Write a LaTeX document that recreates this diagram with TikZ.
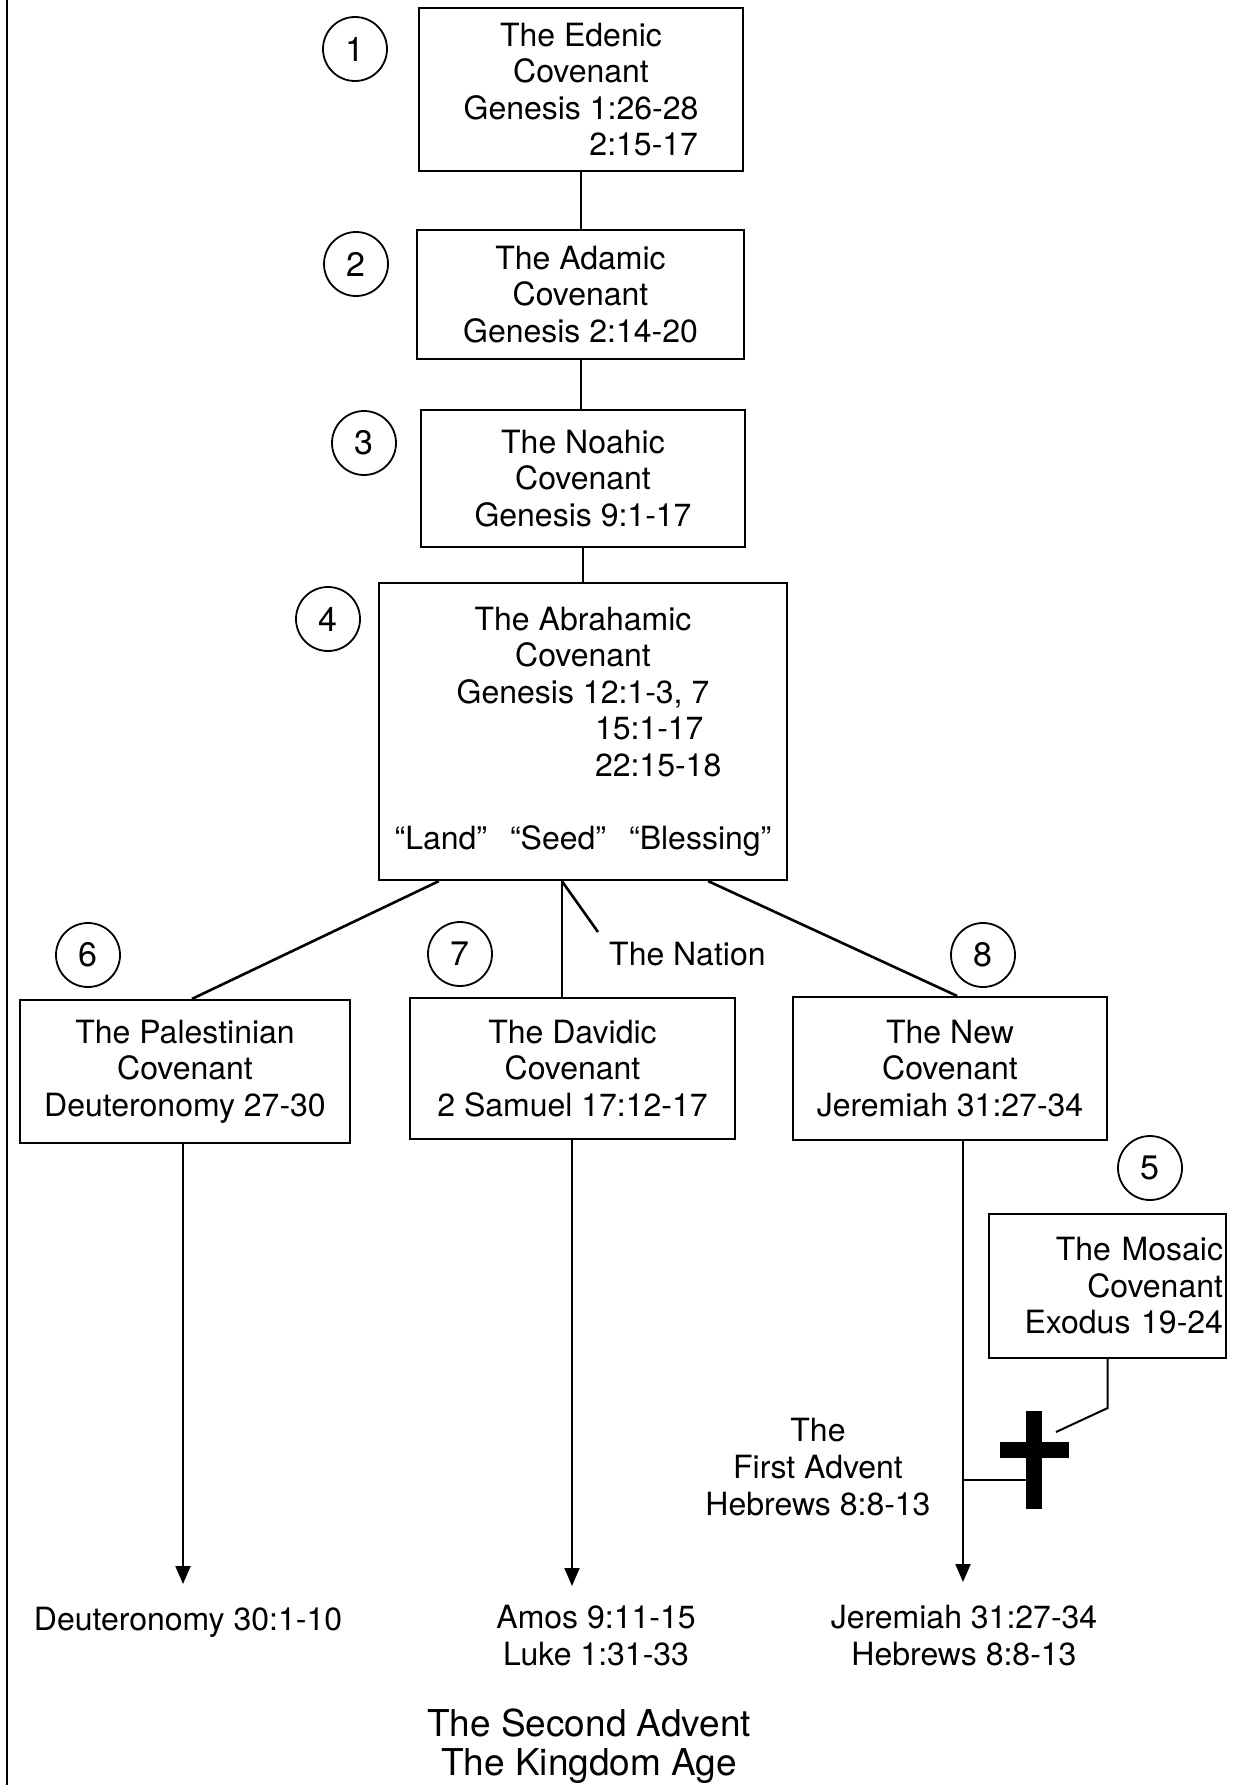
\documentclass[tikz,border=0pt]{standalone}
\usepackage{fontspec}
\setmainfont{TeX Gyre Heros}
\usetikzlibrary{arrows.meta}
\begin{document}
\begin{tikzpicture}[x=1pt,y=-1pt,
  cov/.style={draw, line width=2.2pt, inner sep=0pt, align=center, font=\fontsize{32}{36.5}\selectfont},
  num/.style={draw, circle, line width=1.8pt, minimum size=64pt, inner sep=0pt, font=\fontsize{34}{34}\selectfont},
  conn/.style={line width=2pt},
  diag/.style={line width=2.6pt},
  arr/.style={line width=2pt, -{Triangle[width=15pt,length=18pt]}},
  lbl/.style={inner sep=0pt, align=center, font=\fontsize{32}{37}\selectfont},
  crossbar/.style={fill=black, draw=none, inner sep=0pt}
]
\fill[white] (0,0) rectangle (1237,1785);
\useasboundingbox (0,0) rectangle (1237,1785);
\draw[line width=1.5pt] (7,0) -- (7,1785);

% covenant boxes
\node[cov, minimum width=324pt, minimum height=163pt] (b1) at (581,89.5)
  {The Edenic\\Covenant\\Genesis 1:26-28\\\makebox[234pt][r]{2:15-17}};
\node[cov, minimum width=327pt, minimum height=129pt] (b2) at (580.5,294.5)
  {The Adamic\\Covenant\\Genesis 2:14-20};
\node[cov, minimum width=324pt, minimum height=137pt] (b3) at (583,478.5)
  {The Noahic\\Covenant\\Genesis 9:1-17};
\node[cov, minimum width=408pt, minimum height=297pt] (b4) at (583,731.5)
  {The Abrahamic\\Covenant\\Genesis 12:1-3, 7\\\hspace*{24pt}\makebox[0pt][l]{15:1-17}\\\hspace*{24pt}\makebox[0pt][l]{22:15-18}\\[36.5pt]“Land”\hspace{23pt}“Seed”\hspace{23pt}“Blessing”};
\node[cov, minimum width=330pt, minimum height=143pt] (b6) at (185,1071.5)
  {The Palestinian\\Covenant\hspace*{36pt}\\Deuteronomy 27-30};
\node[cov, minimum width=325pt, minimum height=141pt] (b7) at (572.5,1068.5)
  {The Davidic\\Covenant\\2 Samuel 17:12-17};
\node[cov, minimum width=314pt, minimum height=143pt] (b8) at (950,1068.5)
  {The New\\Covenant\\Jeremiah 31:27-34};
\node[cov, minimum width=237pt, minimum height=144pt, text width=231pt, align=right] (b5) at (1107.5,1286)
  {The Mosaic\\Covenant\\Exodus 19-24};

% numbers
\node[num] (n1) at (355,49) {1};
\node[num] (n2) at (356,264) {2};
\node[num] (n3) at (364,443) {3};
\node[num] (n4) at (328,619) {4};
\node[num] (n6) at (88,955) {6};
\node[num] (n7) at (460,954) {7};
\node[num] (n8) at (983,955) {8};
\node[num] (n5) at (1150,1168) {5};

% vertical chain
\draw[conn] (b1.south) -- (b1.south |- b2.north);
\draw[conn] (b2.south) -- (b2.south |- b3.north);
\draw[conn] (b3.south) -- (b3.south |- b4.north);

% branches
\coordinate (m4) at ([xshift=184pt]b4.south west);
\coordinate (nat) at (598,932);
\draw[diag] ([xshift=61pt]b4.south west) -- ([xshift=7pt]b6.north);
\draw[conn] (m4) -- (m4 |- b7.north);
\draw[diag] (m4) -- (nat);
\draw[diag] ([xshift=-80pt]b4.south east) -- ([xshift=7pt]b8.north);

% arrows down
\coordinate (t6) at (183,1584);
\coordinate (t7) at (572,1586);
\coordinate (t8) at (963,1582);
\draw[arr] (b6.south -| t6) -- (t6);
\draw[arr] (b7.south -| t7) -- (t7);
\draw[arr] (b8.south -| t8) -- (t8);

% cross
\node[crossbar, minimum width=16pt, minimum height=98pt] (crv) at (1034,1460) {};
\node[crossbar, minimum width=69pt, minimum height=16pt] (crh) at (1034.5,1450) {};
\coordinate (j8) at (963,1480);
\draw[conn] (j8) -- (j8 -| crv.west);
\coordinate (mc) at (1056,1432);
\draw[conn] (b5.south) -- ++(0,49) -- (mc);

% labels
\node[lbl, anchor=north west] (nation) at (609,942) {The Nation};
\node[lbl, anchor=north] (first) at (818,1418) {The\\First Advent\\Hebrews 8:8-13};
\node[lbl, anchor=north] (d30) at (188,1607) {Deuteronomy 30:1-10};
\node[lbl, anchor=north] (amos) at (596,1605) {Amos 9:11-15\\Luke 1:31-33};
\node[lbl, anchor=north] (jer) at (964,1605) {Jeremiah 31:27-34\\Hebrews 8:8-13};
\node[lbl, anchor=north, font=\fontsize{37}{39}\selectfont] (second) at (589,1709) {The Second Advent\\The Kingdom Age};
\end{tikzpicture}
\end{document}
